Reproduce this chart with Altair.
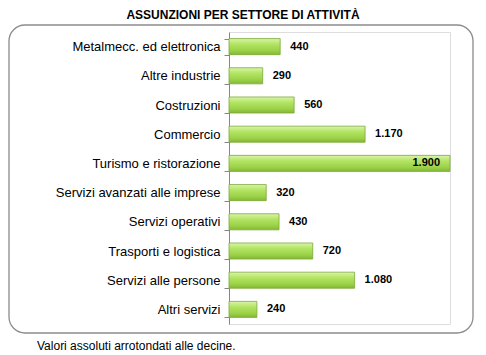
import altair as alt
import pandas as pd

categories = ["Metalmecc. ed elettronica", "Altre industrie", "Costruzioni", "Commercio",
              "Turismo e ristorazione", "Servizi avanzati alle imprese", "Servizi operativi",
              "Trasporti e logistica", "Servizi alle persone", "Altri servizi"]
values = [440, 290, 560, 1170, 1900, 320, 430, 720, 1080, 240]
labels = [f"{v:,}".replace(",", ".") for v in values]

df = pd.DataFrame({"cat": categories, "value": values, "label": labels})

FONT = "Liberation Sans"
W, H = 221, 292

y_enc = alt.Y("cat:N", sort=categories,
              scale=alt.Scale(paddingInner=0.45, paddingOuter=0.225),
              axis=alt.Axis(title=None, tickBand="extent", domainColor="#868686",
                            tickColor="#868686", tickSize=5, labelPadding=4,
                            labelFont=FONT, labelFontSize=13, labelColor="#000000",
                            labelLimit=300))
x_enc = alt.X("value:Q", scale=alt.Scale(domain=[0, 1900], nice=False), axis=None)

grad = alt.Gradient(gradient="linear",
                    stops=[alt.GradientStop(color="#d9f5a8", offset=0),
                           alt.GradientStop(color="#b2e463", offset=0.35),
                           alt.GradientStop(color="#9bd147", offset=0.75),
                           alt.GradientStop(color="#82b834", offset=1)],
                    x1=0, x2=0, y1=0, y2=1)

base = alt.Chart(df)

bars = base.mark_bar(color=grad, stroke="#7ea83a", strokeWidth=0.8, cornerRadius=0).encode(
    y=y_enc, x=x_enc)

out_labels = base.transform_filter("datum.value < 1800").mark_text(
    align="left", baseline="middle", dx=10, font=FONT, fontSize=11, fontWeight="bold",
    color="#000000").encode(y=alt.Y("cat:N", sort=categories), x="value:Q", text="label:N")

in_labels = base.transform_filter("datum.value >= 1800").mark_text(
    align="right", baseline="middle", dx=-10, font=FONT, fontSize=11, fontWeight="bold",
    color="#000000").encode(y=alt.Y("cat:N", sort=categories), x="value:Q", text="label:N")

frame_df = pd.DataFrame({"k": [0]})
frame = alt.Chart(frame_df).mark_rect(
    fill=None, stroke="#8c8c8c", strokeWidth=1.3, cornerRadius=16).encode(
    x=alt.value(-220), x2=alt.value(244), y=alt.value(-7), y2=alt.value(301))

title = alt.Chart(frame_df).mark_text(
    text="ASSUNZIONI PER SETTORE DI ATTIVITÀ", font=FONT, fontSize=12, fontWeight="bold",
    align="center", baseline="middle", color="#000000").encode(
    x=alt.value(14), y=alt.value(-17))

note = alt.Chart(frame_df).mark_text(
    text="Valori assoluti arrotondati alle decine.", font=FONT, fontSize=12,
    align="left", baseline="middle", color="#000000").encode(
    x=alt.value(-192), y=alt.value(314))

chart = alt.layer(frame, bars, out_labels, in_labels, title, note).properties(
    width=W, height=H,
    autosize=alt.AutoSizeParams(type="none"),
    padding={"left": 221, "top": 24, "right": 28, "bottom": 30},
).configure_view(stroke=None).configure(background="#ffffff")

chart.save("out.html", embed_options={"renderer": "svg", "actions": False})
